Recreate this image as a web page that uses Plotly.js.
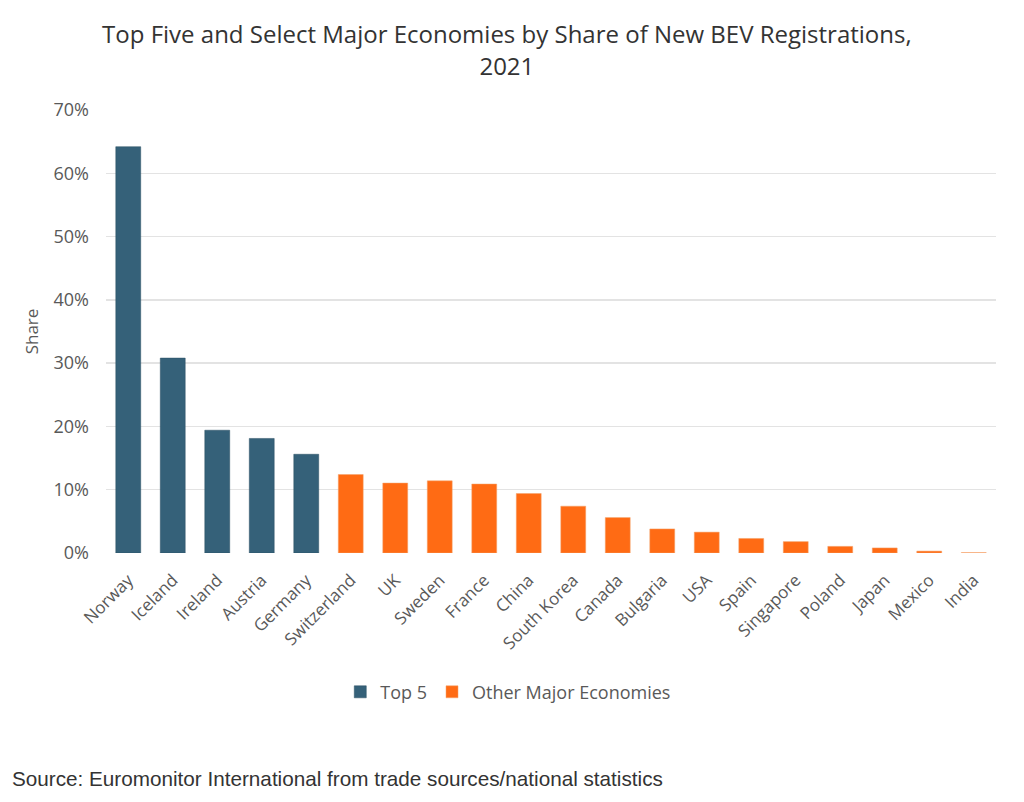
<!DOCTYPE html>
<html>
<head>
<meta charset="utf-8">
<script src="https://cdn.plot.ly/plotly-3.0.1.min.js"></script>
<style>html,body{margin:0;padding:0;background:#fff;}#chart{width:1024px;height:802px;}</style>
</head>
<body>
<div id="chart"></div>
<script>
const top5Countries = ["Norway", "Iceland", "Ireland", "Austria", "Germany"];
const top5Share = [64.2, 30.8, 19.4, 18.1, 15.6];
const otherCountries = ["Switzerland", "UK", "Sweden", "France", "China", "South Korea", "Canada", "Bulgaria", "USA", "Spain", "Singapore", "Poland", "Japan", "Mexico", "India"];
const otherShare = [12.4, 11.05, 11.4, 10.9, 9.4, 7.4, 5.6, 3.8, 3.3, 2.3, 1.8, 1.05, 0.8, 0.3, 0.05];
const yTicks = [0, 10, 20, 30, 40, 50, 60, 70];
const yTickLabels = ["0%", "10%", "20%", "30%", "40%", "50%", "60%", "70%"];

const allCountries = top5Countries.concat(otherCountries);
const font = "'Open Sans', 'Noto Sans', sans-serif";

const traces = [
  {type: "bar", name: "Top 5", x: top5Countries, y: top5Share,
   marker: {color: "#356179", line: {color: "#2a4f63", width: 0.5}}},
  {type: "bar", name: "Other Major Economies", x: otherCountries, y: otherShare,
   marker: {color: "#FF6B14", line: {color: "#f2a36a", width: 0.5}}}
];

const layout = {
  width: 1024, height: 802,
  margin: {l: 106, r: 28, t: 110, b: 249},
  paper_bgcolor: "#fff", plot_bgcolor: "#fff",
  barmode: "overlay", bargap: 0.44,
  showlegend: true,
  font: {family: font, color: "#595959"},
  title: {text: "Top Five and Select Major Economies by Share of New BEV Registrations,<br>2021",
          x: 0.495, xanchor: "center", xref: "container", y: 0.946, yanchor: "middle", yref: "container",
          font: {family: font, size: 24, color: "#333333"}},
  xaxis: {type: "category", categoryorder: "array", categoryarray: allCountries,
          tickangle: -45, tickfont: {family: font, size: 17, color: "#595959"},
          ticklabelstandoff: 13,
          showgrid: false, zeroline: false, showline: false, ticks: ""},
  yaxis: {range: [0, 70], tickvals: yTicks, ticktext: yTickLabels,
          tickfont: {family: font, size: 18, color: "#595959"},
          showgrid: true, gridcolor: "#e3e3e3", gridwidth: 1.3, zeroline: false, showline: false,
          ticks: "", ticklabelstandoff: 16,
          title: {text: "Share", font: {family: font, size: 17, color: "#595959"}, standoff: 10}},
  legend: {orientation: "h", x: 0.452, xanchor: "center", y: -0.314, yanchor: "middle",
           font: {family: font, size: 18, color: "#595959"}, itemwidth: 30, traceorder: "normal"},
  annotations: [{text: "Source: Euromonitor International from trade sources/national statistics",
                 xref: "paper", yref: "paper", x: -0.108, xanchor: "left", y: -0.51, yanchor: "middle",
                 showarrow: false, font: {family: "'Liberation Sans', Arial, sans-serif", size: 20.7, color: "#333333"}}]
};

Plotly.newPlot("chart", traces, layout, {displayModeBar: false, staticPlot: true});
</script>
</body>
</html>
